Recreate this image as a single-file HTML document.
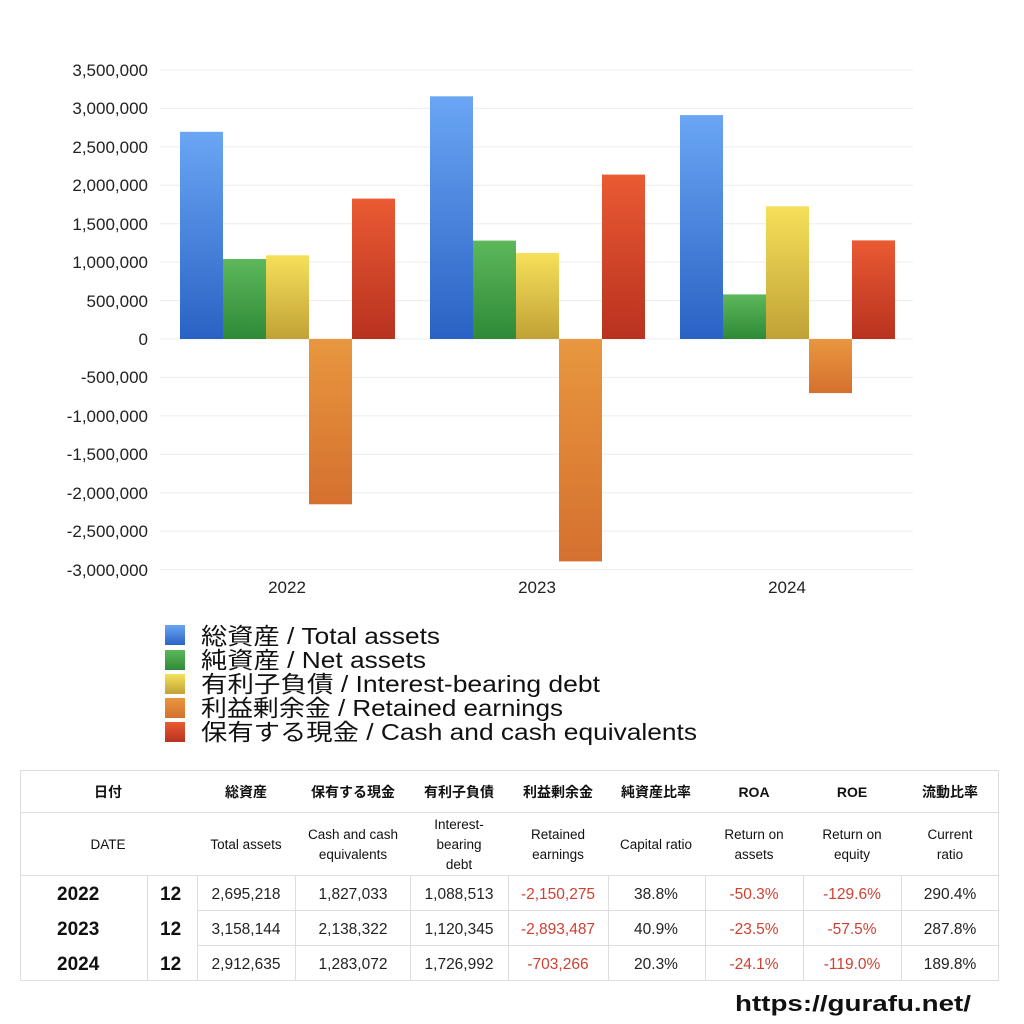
<!DOCTYPE html>
<html><head><meta charset="utf-8"><style>
body{margin:0;background:#fff;width:1024px;height:1024px;overflow:hidden;font-family:"Liberation Sans","Noto Sans CJK JP",sans-serif}
svg{position:absolute;left:0;top:0}
</style></head><body>
<svg width="1024" height="1024" xmlns="http://www.w3.org/2000/svg" font-family="Liberation Sans, Noto Sans CJK JP, sans-serif">
<defs>
<linearGradient id="b" x1="0" y1="0" x2="0" y2="1"><stop offset="0" stop-color="#6aa6f4"/><stop offset="1" stop-color="#2a62c4"/></linearGradient>
<linearGradient id="g" x1="0" y1="0" x2="0" y2="1"><stop offset="0" stop-color="#5cb85a"/><stop offset="1" stop-color="#2f8a38"/></linearGradient>
<linearGradient id="y" x1="0" y1="0" x2="0" y2="1"><stop offset="0" stop-color="#f6e05a"/><stop offset="1" stop-color="#c0a236"/></linearGradient>
<linearGradient id="o" x1="0" y1="0" x2="0" y2="1"><stop offset="0" stop-color="#e8973f"/><stop offset="1" stop-color="#d5702f"/></linearGradient>
<linearGradient id="r" x1="0" y1="0" x2="0" y2="1"><stop offset="0" stop-color="#ea5a33"/><stop offset="1" stop-color="#b83220"/></linearGradient>
</defs>
<g stroke="#ececec" stroke-width="1">
<line x1="160" y1="70" x2="913" y2="70"/><line x1="160" y1="108.4" x2="913" y2="108.4"/><line x1="160" y1="146.9" x2="913" y2="146.9"/><line x1="160" y1="185.3" x2="913" y2="185.3"/><line x1="160" y1="223.7" x2="913" y2="223.7"/><line x1="160" y1="262.1" x2="913" y2="262.1"/><line x1="160" y1="300.6" x2="913" y2="300.6"/><line x1="160" y1="339" x2="913" y2="339"/><line x1="160" y1="377.4" x2="913" y2="377.4"/><line x1="160" y1="415.9" x2="913" y2="415.9"/><line x1="160" y1="454.3" x2="913" y2="454.3"/><line x1="160" y1="492.7" x2="913" y2="492.7"/><line x1="160" y1="531.1" x2="913" y2="531.1"/><line x1="160" y1="569.6" x2="913" y2="569.6"/>
</g>
<g font-size="17" fill="#222" text-anchor="end">
<text x="148" y="76">3,500,000</text><text x="148" y="114">3,000,000</text><text x="148" y="153">2,500,000</text><text x="148" y="191">2,000,000</text><text x="148" y="230">1,500,000</text><text x="148" y="268">1,000,000</text><text x="148" y="307">500,000</text><text x="148" y="345">0</text><text x="148" y="383">-500,000</text><text x="148" y="422">-1,000,000</text><text x="148" y="460">-1,500,000</text><text x="148" y="499">-2,000,000</text><text x="148" y="537">-2,500,000</text><text x="148" y="576">-3,000,000</text>
</g>
<g font-size="17" fill="#222" text-anchor="middle">
<text x="287" y="593">2022</text><text x="537" y="593">2023</text><text x="787" y="593">2024</text>
</g>
<rect x="180" y="131.8" width="43" height="207.2" fill="url(#b)"/>
<rect x="223" y="259" width="43" height="80" fill="url(#g)"/>
<rect x="266" y="255.3" width="43" height="83.7" fill="url(#y)"/>
<rect x="309" y="339" width="43" height="165.3" fill="url(#o)"/>
<rect x="352" y="198.6" width="43" height="140.4" fill="url(#r)"/>
<rect x="430" y="96.3" width="43" height="242.7" fill="url(#b)"/>
<rect x="473" y="240.6" width="43" height="98.4" fill="url(#g)"/>
<rect x="516" y="252.9" width="43" height="86.1" fill="url(#y)"/>
<rect x="559" y="339" width="43" height="222.4" fill="url(#o)"/>
<rect x="602" y="174.6" width="43" height="164.4" fill="url(#r)"/>
<rect x="680" y="115.1" width="43" height="223.9" fill="url(#b)"/>
<rect x="723" y="294.4" width="43" height="44.6" fill="url(#g)"/>
<rect x="766" y="206.3" width="43" height="132.7" fill="url(#y)"/>
<rect x="809" y="339" width="43" height="54.1" fill="url(#o)"/>
<rect x="852" y="240.4" width="43" height="98.6" fill="url(#r)"/>
<g font-size="23" fill="#111">
<rect x="165" y="625" width="20" height="20" fill="url(#b)"/><text x="201" y="644" textLength="239" lengthAdjust="spacingAndGlyphs">総資産 / Total assets</text>
<rect x="165" y="650" width="20" height="20" fill="url(#g)"/><text x="201" y="668" textLength="225" lengthAdjust="spacingAndGlyphs">純資産 / Net assets</text>
<rect x="165" y="674" width="20" height="20" fill="url(#y)"/><text x="201" y="692" textLength="399" lengthAdjust="spacingAndGlyphs">有利子負債 / Interest-bearing debt</text>
<rect x="165" y="698" width="20" height="20" fill="url(#o)"/><text x="201" y="716" textLength="362" lengthAdjust="spacingAndGlyphs">利益剰余金 / Retained earnings</text>
<rect x="165" y="722" width="20" height="20" fill="url(#r)"/><text x="201" y="740" textLength="496" lengthAdjust="spacingAndGlyphs">保有する現金 /  Cash and cash equivalents</text>
</g>
<g stroke="#ddd" stroke-width="1" fill="none">
<rect x="20.5" y="770.5" width="978" height="210"/>
<line x1="20" y1="812.5" x2="999" y2="812.5"/>
<line x1="20" y1="875.5" x2="999" y2="875.5"/>
<line x1="197" y1="910.5" x2="999" y2="910.5"/>
<line x1="197" y1="945.5" x2="999" y2="945.5"/>
<line x1="147.5" y1="875" x2="147.5" y2="980"/>
<line x1="197.5" y1="875" x2="197.5" y2="980"/>
<line x1="295.5" y1="875" x2="295.5" y2="980"/>
<line x1="410.5" y1="875" x2="410.5" y2="980"/>
<line x1="508.5" y1="875" x2="508.5" y2="980"/>
<line x1="608.5" y1="875" x2="608.5" y2="980"/>
<line x1="705.5" y1="875" x2="705.5" y2="980"/>
<line x1="803.5" y1="875" x2="803.5" y2="980"/>
<line x1="901.5" y1="875" x2="901.5" y2="980"/>
</g>
<g font-size="14" fill="#111" text-anchor="middle" font-weight="bold">
<text x="108" y="797">日付</text><text x="246" y="797">総資産</text><text x="353" y="797">保有する現金</text><text x="459" y="797">有利子負債</text><text x="558" y="797">利益剰余金</text><text x="656" y="797">純資産比率</text><text x="754" y="797">ROA</text><text x="852" y="797">ROE</text><text x="950" y="797">流動比率</text>
</g>
<g font-size="13.5" fill="#111" text-anchor="middle">
<text x="108" y="849">DATE</text><text x="246" y="849">Total assets</text>
<text x="353" y="839">Cash and cash</text><text x="353" y="859">equivalents</text>
<text x="459" y="829">Interest-</text><text x="459" y="849">bearing</text><text x="459" y="869">debt</text>
<text x="558" y="839">Retained</text><text x="558" y="859">earnings</text>
<text x="656" y="849">Capital ratio</text>
<text x="754" y="839">Return on</text><text x="754" y="859">assets</text>
<text x="852" y="839">Return on</text><text x="852" y="859">equity</text>
<text x="950" y="839">Current</text><text x="950" y="859">ratio</text>
</g>
<g font-size="19" font-weight="bold" fill="#111">
<text x="57" y="900">2022</text><text x="57" y="935">2023</text><text x="57" y="970">2024</text>
<text x="160" y="900">12</text><text x="160" y="935">12</text><text x="160" y="970">12</text>
</g>
<g font-size="15.5" fill="#222" text-anchor="middle">
<text x="246" y="899">2,695,218</text><text x="353" y="899">1,827,033</text><text x="459" y="899">1,088,513</text><text x="558" y="899" fill="#d04030">-2,150,275</text><text x="656" y="899">38.8%</text><text x="754" y="899" fill="#d04030">-50.3%</text><text x="852" y="899" fill="#d04030">-129.6%</text><text x="950" y="899">290.4%</text>
<text x="246" y="934">3,158,144</text><text x="353" y="934">2,138,322</text><text x="459" y="934">1,120,345</text><text x="558" y="934" fill="#d04030">-2,893,487</text><text x="656" y="934">40.9%</text><text x="754" y="934" fill="#d04030">-23.5%</text><text x="852" y="934" fill="#d04030">-57.5%</text><text x="950" y="934">287.8%</text>
<text x="246" y="969">2,912,635</text><text x="353" y="969">1,283,072</text><text x="459" y="969">1,726,992</text><text x="558" y="969" fill="#d04030">-703,266</text><text x="656" y="969">20.3%</text><text x="754" y="969" fill="#d04030">-24.1%</text><text x="852" y="969" fill="#d04030">-119.0%</text><text x="950" y="969">189.8%</text>
</g>
<text x="735" y="1011" font-size="22" fill="#111" font-weight="bold" textLength="236" lengthAdjust="spacingAndGlyphs">https://gurafu.net/</text>
</svg>
</body></html>
